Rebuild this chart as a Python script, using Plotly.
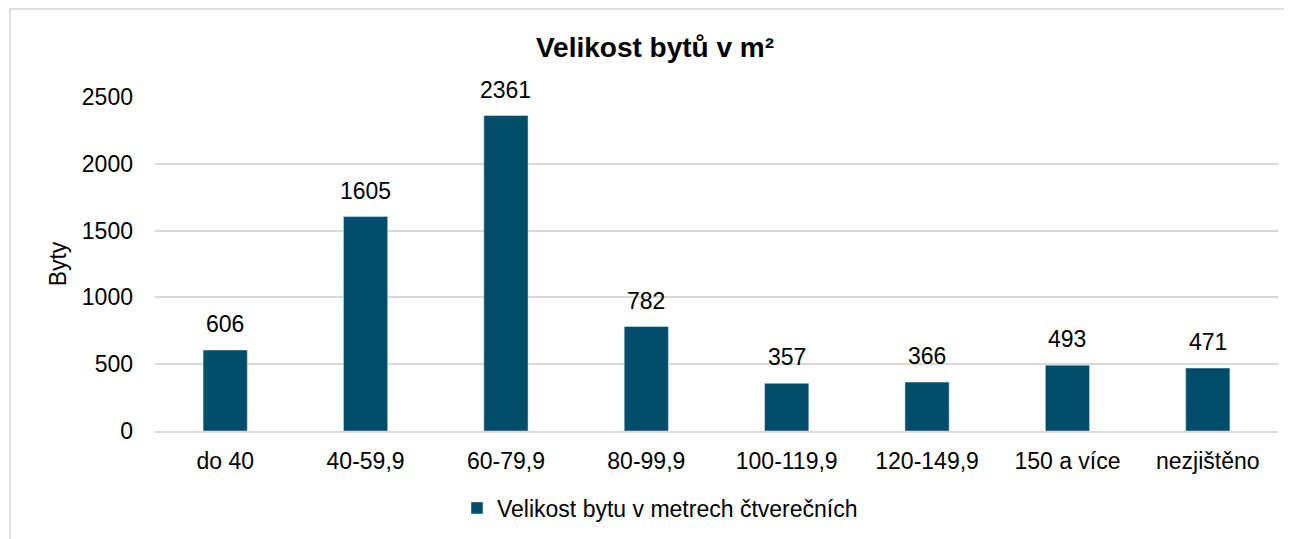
import plotly.graph_objects as go

categories = ["do 40", "40-59,9", "60-79,9", "80-99,9", "100-119,9", "120-149,9", "150 a více", "nezjištěno"]
values = [606, 1605, 2361, 782, 357, 366, 493, 471]
series_name = "Velikost bytu v metrech čtverečních"
title_text = "<b>Velikost bytů v m²</b>"
y_title = "Byty"

# page has an 8px body margin; coordinates below are in figure space
OFF = 8
W, H = 1292, 539
L, R, T, B = 155 - OFF, 22, 97 - OFF, 539 - (431 - OFF)
FONT = "Liberation Sans, Arial, sans-serif"
BAR = "#004c6b"
FS = 23

pw = W - L - R
ph = H - T - B

fig = go.Figure()
fig.add_trace(go.Bar(
    x=categories, y=values, name=series_name,
    marker=dict(color=BAR),
    width=0.315,
))
for c, v in zip(categories, values):
    fig.add_annotation(x=c, y=v, text=str(v), showarrow=False,
                       yanchor="bottom", yshift=11,
                       font=dict(size=FS, color="#000000", family=FONT))

fig.update_layout(
    width=W, height=H,
    margin=dict(l=L, r=R, t=T, b=B),
    paper_bgcolor="white", plot_bgcolor="white",
    font=dict(family=FONT, size=FS, color="#000000"),
    title=dict(text=title_text, x=(655 - OFF) / W, xanchor="center", xref="container",
               y=1 - (47 - OFF) / H, yanchor="middle", yref="container",
               font=dict(size=28, family=FONT, color="#000000")),
    showlegend=True,
    legend=dict(orientation="h", x=(660 - OFF - L) / pw, xanchor="center",
                y=-(508 - 431) / ph, yanchor="middle",
                font=dict(size=FS, family=FONT), itemwidth=30),
    xaxis=dict(showgrid=False, showline=True, linecolor="#d9d9d9", linewidth=1.5,
               ticks="", tickfont=dict(size=FS), ticklabelstandoff=9),
    yaxis=dict(range=[0, 2500], dtick=500, showgrid=True, gridcolor="#d9d9d9",
               gridwidth=1.5, zeroline=False, showline=False, ticks="",
               tickfont=dict(size=FS), ticklabelstandoff=21,
               title=dict(text=y_title, font=dict(size=FS), standoff=8)),
    shapes=[dict(type="rect", xref="paper", yref="paper",
                 x0=(10 - OFF - L) / pw, x1=(W + 40 - L) / pw,
                 y0=-(H + 40 - T - ph) / ph, y1=1 + (T - (9 - OFF)) / ph,
                 line=dict(color="#d9d9d9", width=1.5), layer="below")],
)

fig.write_html("out.html")
